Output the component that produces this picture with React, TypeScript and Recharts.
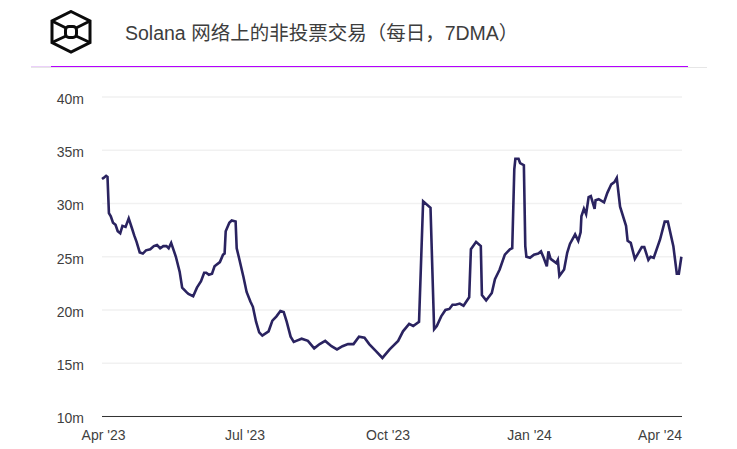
import { LineChart, Line, XAxis, YAxis, CartesianGrid } from 'recharts'

// Days since 1 Apr 2023
const days = [
  0, 1, 2.6, 3.5, 4.4, 5.6, 7, 8.6, 10, 11.6, 13, 15, 17, 19, 20.5, 22, 24, 26, 28, 30.7,
  33, 35, 37, 39, 41, 42.4, 44, 47, 49.4, 51, 53.6, 55, 58, 60.4, 63, 65, 66.3, 68, 70, 71.6,
  75, 77, 78, 78.7, 81, 82.5, 85, 85.7, 87, 90, 92, 94.4, 96, 98, 100, 102, 106, 108.4, 111, 113.5,
  115.6, 117.5, 120, 122, 123.6, 127, 131, 135, 138.5, 142, 146, 149.5, 153, 156.5, 160, 163.5, 167, 170, 174.6, 178.4,
  183, 188.4, 191.5, 195.4, 198, 201.7, 204.3, 209, 211.3, 213, 215.8, 218.5, 221, 223, 225, 227.6, 230, 233.6, 234.7, 238,
  241, 241.7, 244.4, 248, 250, 253, 256.3, 259.5, 261, 262.3, 263, 265, 266, 268.4, 269.3, 270, 272.3, 274.8, 277.6, 279.3,
  281, 283, 284, 285.4, 289, 290, 291, 294, 296, 297.7, 301, 303, 304.5, 305, 306.6, 308, 309.6, 311, 313.4, 314,
  316, 319.4, 321.5, 324, 326, 327.5, 329.6, 333.4, 334.4, 336.4, 339, 341, 343.4, 345, 347.6, 349, 351, 355, 358, 360,
  363.5, 365.7, 367, 368.6,
]

// Non-vote transactions per day, in millions
const txMillions = [
  32.3, 32.4, 32.6, 32.5, 29.1, 28.8, 28.2, 28.0, 27.4, 27.2, 27.9, 27.8, 28.6, 27.7, 27.0, 26.4, 25.4, 25.3, 25.6, 25.7,
  26.0, 26.1, 25.8, 26.0, 26.0, 25.8, 26.3, 25.0, 23.6, 22.1, 21.7, 21.5, 21.3, 22.1, 22.7, 23.5, 23.5, 23.3, 23.4, 24.1,
  24.5, 25.2, 25.3, 27.4, 28.2, 28.4, 28.3, 25.8, 25.0, 23.1, 21.7, 20.8, 20.3, 18.9, 17.9, 17.6, 18.0, 19.0, 19.4, 19.9,
  19.8, 18.9, 17.5, 17.0, 17.1, 17.3, 17.1, 16.4, 16.8, 17.1, 16.6, 16.3, 16.6, 16.8, 16.8, 17.5, 17.4, 16.8, 16.1, 15.5,
  16.3, 17.1, 18.0, 18.7, 18.5, 18.9, 30.2, 29.6, 18.2, 18.5, 19.4, 20.0, 20.1, 20.5, 20.5, 20.6, 20.4, 21.2, 25.7, 26.4,
  26.0, 21.4, 20.9, 21.6, 22.9, 23.8, 25.2, 25.7, 25.8, 33.2, 34.2, 34.2, 33.8, 33.6, 26.0, 25.0, 24.9, 25.2, 25.3, 25.5,
  24.9, 24.1, 25.5, 24.8, 24.4, 24.7, 23.2, 23.8, 25.4, 26.2, 27.1, 26.5, 27.3, 28.8, 29.5, 29.0, 30.6, 30.7, 29.5, 30.3,
  30.4, 30.1, 31.0, 31.8, 32.0, 32.4, 29.7, 27.9, 26.5, 26.3, 24.8, 25.3, 25.9, 25.9, 24.7, 25.0, 24.9, 26.6, 28.3, 28.3,
  26.0, 23.4, 23.4, 25.0,
]

const yTicks = [10, 15, 20, 25, 30, 35, 40]
const xTicks = [1, 91, 182, 272, 366]
const xTickLabels = ["Apr '23", "Jul '23", "Oct '23", "Jan '24", "Apr '24"]

const data = days.map((day, i) => ({ day, tx: txMillions[i] }))

const FONT = '"Liberation Sans", "Noto Sans CJK SC", sans-serif'

// The last label gets pulled in so that it ends on the plot edge
function DateTick({ x, y, index }: any) {
  const isLast = index === xTicks.length - 1
  return (
    <text
      x={isLast ? 682 : x}
      y={y + 15}
      textAnchor={isLast ? 'end' : 'middle'}
      fontSize={14}
      fontFamily={FONT}
      fill="#3f3f3f"
    >
      {xTickLabels[index]}
    </text>
  )
}

function Logo() {
  return (
    <svg
      width={44}
      height={44}
      viewBox="0 0 44 44"
      style={{ position: 'absolute', left: 49, top: 10 }}
      fill="none"
      stroke="#0b0b0b"
      strokeWidth={3}
    >
      <path d="M22 1.5 L41 11 L41 32.5 L22 42 L3 32.5 L3 11 Z" />
      <rect x={16.5} y={16.5} width={11} height={11} rx={3.5} />
      <path d="M3 11 L17 18 M41 11 L27 18 M3 32.5 L17 26 M41 32.5 L27 26" />
    </svg>
  )
}

export default function App() {
  return (
    <div style={{ position: 'absolute', left: 0, top: 0, width: 737, height: 449, background: '#fff', overflow: 'hidden' }}>
      <Logo />
      <div
        style={{
          position: 'absolute',
          left: 125,
          top: 20,
          fontFamily: FONT,
          fontSize: 19.5,
          lineHeight: '26px',
          color: '#3d3d3d',
          whiteSpace: 'nowrap',
        }}
      >
        Solana 网络上的非投票交易（每日，7DMA）
      </div>
      <div style={{ position: 'absolute', left: 31, top: 67, width: 676, height: 1, background: '#e6e6e6' }} />
      <div style={{ position: 'absolute', left: 31, top: 66, width: 20, height: 1, background: '#ecd0fa' }} />
      <div style={{ position: 'absolute', left: 51, top: 66, width: 637, height: 1, background: '#b400ff' }} />

      <LineChart
        width={737}
        height={449}
        data={data}
        margin={{ top: 97, right: 55, bottom: 0, left: 30 }}
        style={{ position: 'absolute', left: 0, top: 0 }}
      >
        <CartesianGrid horizontal vertical={false} stroke="#f1f1f1" strokeWidth={1.5} />
        <XAxis
          dataKey="day"
          type="number"
          domain={[0, 369]}
          ticks={xTicks}
          tick={<DateTick />}
          tickLine={false}
          axisLine={{ stroke: '#333333', strokeWidth: 1.2 }}
          interval={0}
          height={32.5}
        />
        <YAxis
          type="number"
          domain={[10, 40]}
          ticks={yTicks}
          tickFormatter={(v: number) => `${v}m`}
          tick={{ fontSize: 14, fill: '#3f3f3f', fontFamily: FONT, dy: 2 }}
          tickLine={false}
          axisLine={false}
          tickMargin={12}
          width={72}
        />
        <Line
          dataKey="tx"
          type="linear"
          stroke="#2a2360"
          strokeWidth={2.6}
          dot={false}
          isAnimationActive={false}
        />
      </LineChart>
    </div>
  )
}
